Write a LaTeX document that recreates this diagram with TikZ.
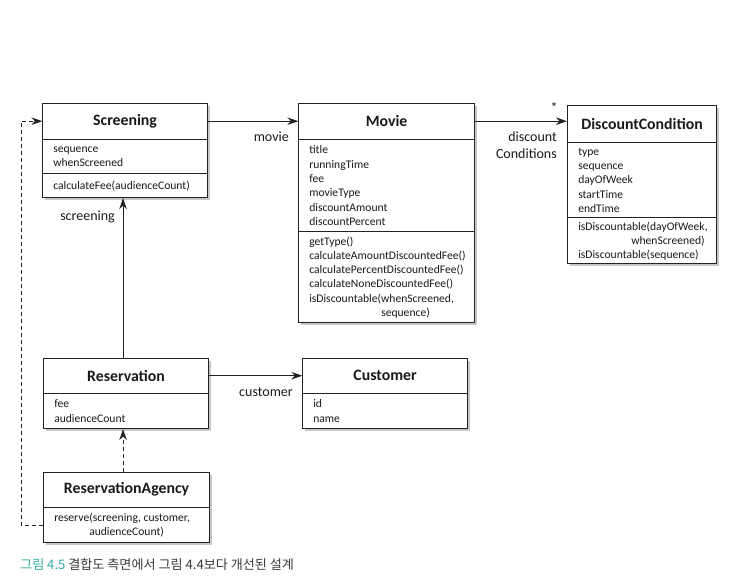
\documentclass[tikz,border=0pt]{standalone}
\usepackage{fontspec}
\setmainfont{Carlito}
\newfontfamily\krfont{Noto Sans CJK KR}
\usetikzlibrary{arrows.meta,shadows}
\definecolor{ink}{HTML}{1A1A1A}
\definecolor{frame}{HTML}{222222}
\definecolor{captionteal}{RGB}{48,172,160}
\definecolor{captionink}{HTML}{3A3A3A}
\begin{document}
\begin{tikzpicture}[x=1pt,y=-1pt,
  classbox/.style={draw=frame, line width=1.1pt, fill=white, anchor=north west,
    inner sep=0pt, drop shadow={shadow xshift=2pt, shadow yshift=-2pt, opacity=0.22, fill=black}},
  titlecell/.style={anchor=north, inner sep=0pt, text=ink,
    font=\bfseries\fontsize{15.8}{18}\selectfont},
  cell/.style={anchor=north, inner sep=0pt},
  members/.style={anchor=west, inner sep=0pt, xshift=10.7pt, align=left, text=ink,
    font=\fontsize{11.6}{14.3}\selectfont},
  divider/.style={draw=frame, line width=1pt},
  lbl/.style={inner sep=0pt, text=ink, font=\fontsize{14}{16.5}\selectfont},
  assoc/.style={draw=frame, line width=1.1pt, -{Stealth[length=11pt,width=7.5pt]}},
  dep/.style={draw=frame, line width=1.1pt, dash pattern=on 4pt off 3pt,
    -{Stealth[length=11pt,width=7.5pt]}}
]
\useasboundingbox (0,0) rectangle (735,581);

% ---------- Screening ----------
\node[classbox, minimum width=165pt, minimum height=94pt] (screening) at (42,103) {};
\node[titlecell, minimum width=165pt, minimum height=36pt] (screening-t) at (screening.north) {Screening};
\node[cell, minimum width=165pt, minimum height=34pt] (screening-a) at (screening-t.south) {};
\node[cell, minimum width=165pt, minimum height=24pt] (screening-m) at (screening-a.south) {};
\node[members] at (screening-a.west) {sequence\\whenScreened};
\node[members] at (screening-m.west) {calculateFee(audienceCount)};
\draw[divider] (screening-t.south west) -- (screening-t.south east);
\draw[divider] (screening-a.south west) -- (screening-a.south east);

% ---------- Movie ----------
\node[classbox, minimum width=176pt, minimum height=219pt] (movie) at (298,103) {};
\node[titlecell, minimum width=176pt, minimum height=36pt] (movie-t) at (movie.north) {Movie};
\node[cell, minimum width=176pt, minimum height=92pt] (movie-a) at (movie-t.south) {};
\node[cell, minimum width=176pt, minimum height=91pt] (movie-m) at (movie-a.south) {};
\node[members] at (movie-a.west)
  {title\\runningTime\\fee\\movieType\\discountAmount\\discountPercent};
\node[members] at (movie-m.west)
  {getType()\\calculateAmountDiscountedFee()\\calculatePercentDiscountedFee()\\calculateNoneDiscountedFee()\\isDiscountable(whenScreened,\\\hspace*{72pt}sequence)};
\draw[divider] (movie-t.south west) -- (movie-t.south east);
\draw[divider] (movie-a.south west) -- (movie-a.south east);

% ---------- DiscountCondition ----------
\node[classbox, minimum width=149pt, minimum height=158pt] (dc) at (567,105) {};
\node[titlecell, minimum width=149pt, minimum height=37pt] (dc-t) at (dc.north) {DiscountCondition};
\node[cell, minimum width=149pt, minimum height=75pt] (dc-a) at (dc-t.south) {};
\node[cell, minimum width=149pt, minimum height=46pt] (dc-m) at (dc-a.south) {};
\node[members] at (dc-a.west) {type\\sequence\\dayOfWeek\\startTime\\endTime};
\node[members] at (dc-m.west)
  {isDiscountable(dayOfWeek,\\\hspace*{53pt}whenScreened)\\isDiscountable(sequence)};
\draw[divider] (dc-t.south west) -- (dc-t.south east);
\draw[divider] (dc-a.south west) -- (dc-a.south east);

% ---------- Reservation ----------
\node[classbox, minimum width=165pt, minimum height=70pt] (reservation) at (43,358) {};
\node[titlecell, minimum width=165pt, minimum height=35pt] (reservation-t) at (reservation.north) {Reservation};
\node[cell, minimum width=165pt, minimum height=35pt] (reservation-a) at (reservation-t.south) {};
\node[members] at (reservation-a.west) {fee\\audienceCount};
\draw[divider] (reservation-t.south west) -- (reservation-t.south east);

% ---------- Customer ----------
\node[classbox, minimum width=165pt, minimum height=70pt] (customer) at (302,358) {};
\node[titlecell, minimum width=165pt, minimum height=35pt] (customer-t) at (customer.north) {Customer};
\node[cell, minimum width=165pt, minimum height=35pt] (customer-a) at (customer-t.south) {};
\node[members] at (customer-a.west) {id\\name};
\draw[divider] (customer-t.south west) -- (customer-t.south east);

% ---------- ReservationAgency ----------
\node[classbox, minimum width=166pt, minimum height=70pt] (agency) at (43,472) {};
\node[titlecell, minimum width=166pt, minimum height=35pt] (agency-t) at (agency.north) {ReservationAgency};
\node[cell, minimum width=166pt, minimum height=35pt] (agency-m) at (agency-t.south) {};
\node[members] at (agency-m.west)
  {reserve(screening, customer,\\[-1pt]\hspace*{35pt}audienceCount)};
\draw[divider] (agency-t.south west) -- (agency-t.south east);

% ---------- associations ----------
\draw[assoc] (screening-t.east) -- (movie-t.west);
\node[lbl, anchor=base east] (movie-lbl) at (289,141.5) {movie};

\draw[assoc] (movie-t.east) -- (movie-t.east -| dc.west);
\node[lbl, anchor=east, align=right] (dc-lbl) at (557,145) {discount\\Conditions};
\node[lbl, anchor=center] (dc-mult) at (554,108) {*};

\draw[assoc] (screening.south |- reservation.north) ++(-2,0) coordinate (res-up)
  -- (res-up |- screening.south);
\node[lbl, anchor=base east] (screening-lbl) at (115,220) {screening};

\draw[assoc] (reservation-t.east) -- (customer-t.west);
\node[lbl, anchor=base east] (customer-lbl) at (293,396) {customer};

% ---------- dependencies ----------
\draw[dep] (res-up |- agency.north) -- (res-up |- reservation.south);
\draw[dep] (agency-m.west) -- ++(-22,0) |- (screening-t.west);

% ---------- caption ----------
\node[anchor=base west, inner sep=0pt, font=\krfont\fontsize{13.1}{15}\selectfont, text=captionink] (caption) at (20,569.5)
  {\textcolor{captionteal}{그림 4.5} 결합도 측면에서 그림 4.4보다 개선된 설계};
\end{tikzpicture}
\end{document}
